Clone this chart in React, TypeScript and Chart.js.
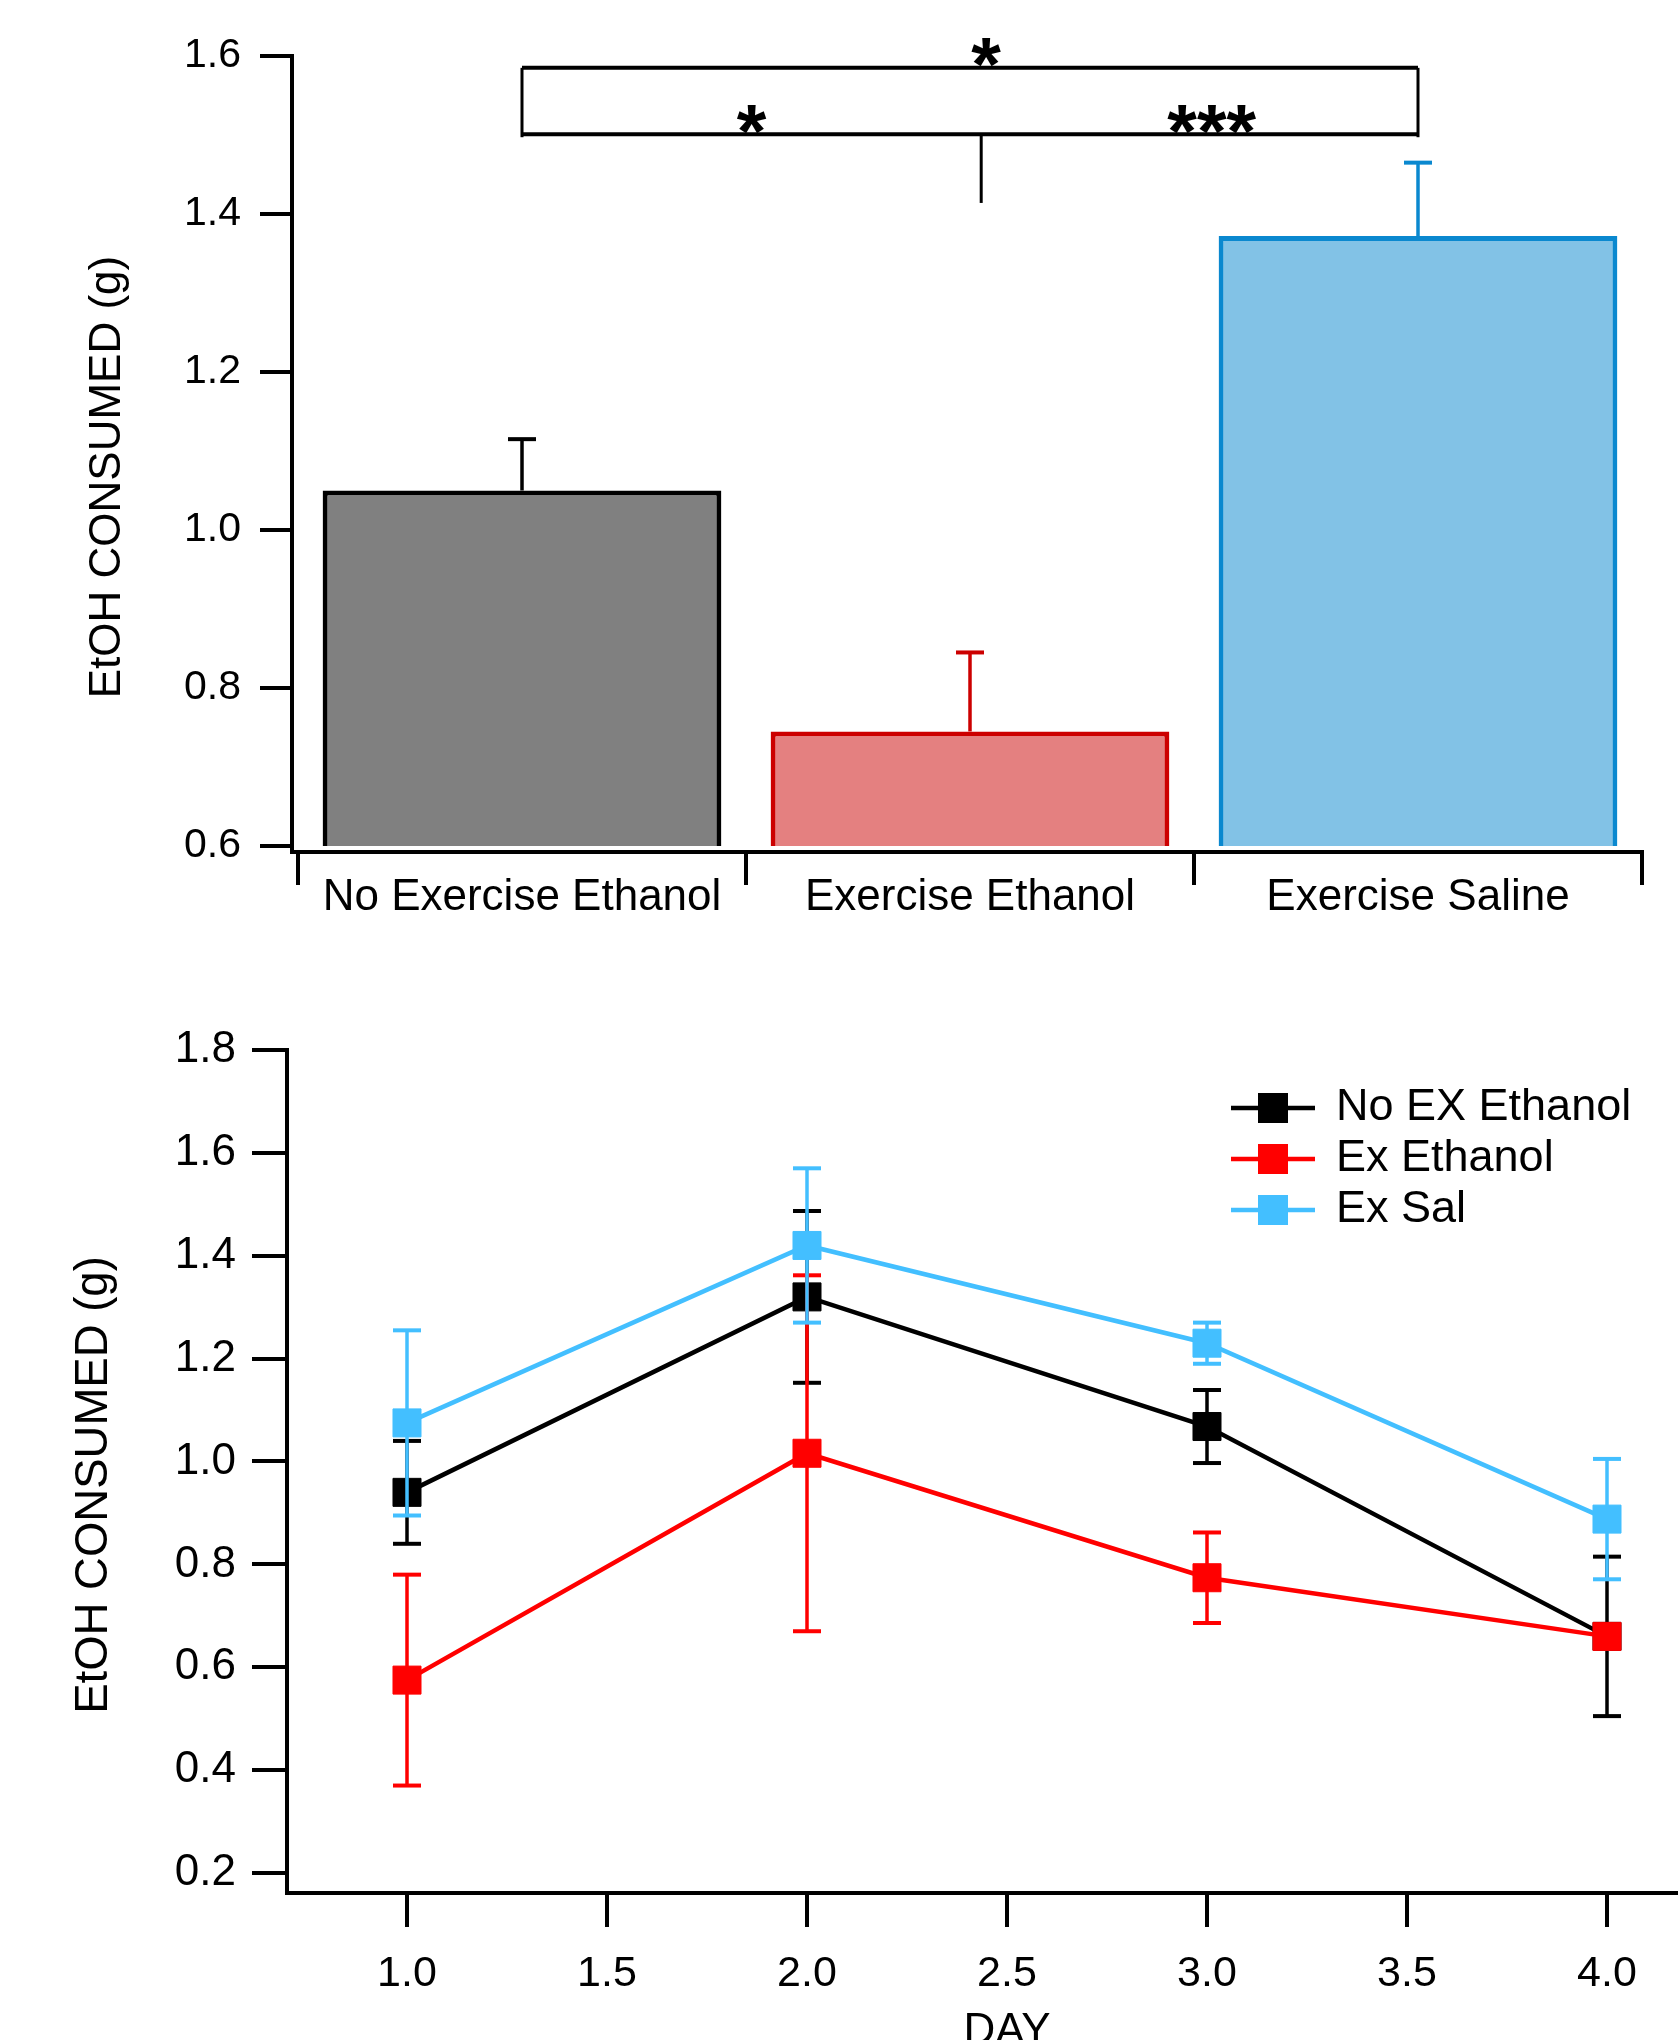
import React, { useEffect, useRef } from 'react';
import { Chart, registerables } from 'chart.js';

Chart.register(...registerables);

const FONT = '"Liberation Sans", Arial, Helvetica, sans-serif';

// ---------- Top panel: bar chart ----------
const barCategories = ['No Exercise Ethanol', 'Exercise Ethanol', 'Exercise Saline'];
const barMeans = [1.05, 0.745, 1.372];
const barErrors = [0.065, 0.1, 0.093];
const barYTicks = [0.6, 0.8, 1.0, 1.2, 1.4, 1.6];
const barFill = ['#808080', '#E48080', '#82C2E6'];
const barEdge = ['#000000', '#CC0000', '#0A88CF'];

// significance bracket (value-axis levels, category-index positions)
const bracketFrom = 0;
const bracketTo = 2;
const bracketUpperLevel = 1.585;
const bracketLowerLevel = 1.501;
const bracketStemAt = 1.025;
const bracketStemEnd = 1.414;
const sigMarks = ['*', '*', '***'];
const sigMarkAt = [1.036, 0.513, 1.54];
const sigMarkLevel = [1.6044, 1.519, 1.519];

// ---------- Bottom panel: line chart ----------
const days = [1, 2, 3, 4];
const dayTicks = [1.0, 1.5, 2.0, 2.5, 3.0, 3.5, 4.0];
const lineYTicks = [0.2, 0.4, 0.6, 0.8, 1.0, 1.2, 1.4, 1.6, 1.8];
const seriesNames = ['No EX Ethanol', 'Ex Ethanol', 'Ex Sal'];
const seriesColors = ['#000000', '#FF0000', '#43BFFF'];
const noExEthanol = [0.94, 1.32, 1.068, 0.66];
const noExEthanolErr = [0.1, 0.167, 0.071, 0.155];
const exEthanol = [0.575, 1.016, 0.774, 0.66];
const exEthanolErr = [0.205, 0.346, 0.088, 0.01];
const exSal = [1.075, 1.42, 1.23, 0.888];
const exSalErr = [0.18, 0.15, 0.04, 0.117];

const seriesValues = [noExEthanol, exEthanol, exSal];
const seriesErrors = [noExEthanolErr, exEthanolErr, exSalErr];

const Y_TITLE = 'EtOH CONSUMED (g)';

function strokeLine(ctx: CanvasRenderingContext2D, x1: number, y1: number, x2: number, y2: number) {
  ctx.beginPath();
  ctx.moveTo(x1, y1);
  ctx.lineTo(x2, y2);
  ctx.stroke();
}

function drawCenteredGlyphs(ctx: CanvasRenderingContext2D, text: string, cx: number, cy: number) {
  ctx.textAlign = 'left';
  ctx.textBaseline = 'alphabetic';
  const m = ctx.measureText(text);
  const A = m.actualBoundingBoxAscent;
  const D = m.actualBoundingBoxDescent;
  const L = m.actualBoundingBoxLeft;
  const R = m.actualBoundingBoxRight;
  ctx.fillText(text, cx - (R - L) / 2, cy + (A - D) / 2);
}

function drawVerticalTitle(ctx: CanvasRenderingContext2D, text: string, baselineX: number, centerY: number, size: number) {
  ctx.save();
  ctx.translate(baselineX, centerY);
  ctx.rotate(-Math.PI / 2);
  ctx.font = `${size}px ${FONT}`;
  ctx.fillStyle = '#000';
  ctx.textAlign = 'center';
  ctx.textBaseline = 'alphabetic';
  ctx.fillText(text, 0, 0);
  ctx.restore();
}

const topDecor = {
  id: 'topDecor',
  afterDatasetsDraw(chart: any) {
    const ctx: CanvasRenderingContext2D = chart.ctx;
    const xs = chart.scales.x;
    const ys = chart.scales.y;
    const area = chart.chartArea;
    const meta = chart.getDatasetMeta(0);
    ctx.save();
    ctx.lineCap = 'butt';

    // error bars (upper only)
    barMeans.forEach((m, i) => {
      const cx = meta.data[i].x;
      const y0 = ys.getPixelForValue(m);
      const y1 = ys.getPixelForValue(m + barErrors[i]);
      ctx.strokeStyle = barEdge[i];
      ctx.lineWidth = 3.5;
      strokeLine(ctx, cx, y0, cx, y1);
      ctx.lineWidth = 4;
      strokeLine(ctx, cx - 14, y1, cx + 14, y1);
    });

    // axes (offset from the plot area)
    const axX = area.left - 6;
    const axY = area.bottom + 6;
    const topPx = ys.getPixelForValue(barYTicks[barYTicks.length - 1]);
    ctx.strokeStyle = '#000';
    ctx.lineWidth = 4;
    strokeLine(ctx, axX, topPx - 2, axX, axY + 2);
    strokeLine(ctx, axX - 2, axY, area.right + 2, axY);
    barYTicks.forEach((v) => {
      const py = ys.getPixelForValue(v);
      strokeLine(ctx, axX - 32, py, axX, py);
    });
    for (let i = 0; i <= barCategories.length; i++) {
      const bx = xs.getPixelForValue(i - 0.5);
      strokeLine(ctx, bx, axY, bx, axY + 33);
    }

    // significance bracket
    const xL = xs.getPixelForValue(bracketFrom);
    const xR = xs.getPixelForValue(bracketTo);
    const yU = ys.getPixelForValue(bracketUpperLevel);
    const yLo = ys.getPixelForValue(bracketLowerLevel);
    ctx.lineWidth = 4;
    strokeLine(ctx, xL, yU, xR, yU);
    strokeLine(ctx, xL, yLo, xR, yLo);
    ctx.lineWidth = 3;
    strokeLine(ctx, xL, yU, xL, yLo + 3);
    strokeLine(ctx, xR, yU, xR, yLo + 3);
    const xs2 = xs.getPixelForValue(bracketStemAt);
    strokeLine(ctx, xs2, yLo, xs2, ys.getPixelForValue(bracketStemEnd));

    ctx.fillStyle = '#000';
    ctx.font = `bold 76px ${FONT}`;
    sigMarks.forEach((s, i) => {
      drawCenteredGlyphs(ctx, s, xs.getPixelForValue(sigMarkAt[i]), ys.getPixelForValue(sigMarkLevel[i]));
    });

    ctx.restore();
    drawVerticalTitle(ctx, Y_TITLE, 120, 477, 44);
  },
};

const bottomDecor = {
  id: 'bottomDecor',
  afterDatasetDraw(chart: any, args: any) {
    const ctx: CanvasRenderingContext2D = chart.ctx;
    const ys = chart.scales.y;
    const i = args.index;
    const vals = seriesValues[i];
    const errs = seriesErrors[i];
    ctx.save();
    ctx.strokeStyle = seriesColors[i];
    ctx.lineCap = 'butt';
    args.meta.data.forEach((pt: any, k: number) => {
      const cx = pt.x;
      const yT = ys.getPixelForValue(vals[k] + errs[k]);
      const yB = ys.getPixelForValue(vals[k] - errs[k]);
      ctx.lineWidth = 3.5;
      strokeLine(ctx, cx, yT, cx, yB);
      ctx.lineWidth = 4;
      strokeLine(ctx, cx - 14, yT, cx + 14, yT);
      strokeLine(ctx, cx - 14, yB, cx + 14, yB);
    });
    ctx.restore();
  },
  afterDraw(chart: any) {
    const ctx: CanvasRenderingContext2D = chart.ctx;
    ctx.save();
    const rowTop = 148;
    const rowGap = 51;
    seriesNames.forEach((name, i) => {
      const y = rowTop + i * rowGap;
      ctx.strokeStyle = seriesColors[i];
      ctx.fillStyle = seriesColors[i];
      ctx.lineWidth = 4.5;
      strokeLine(ctx, 1231, y, 1315, y);
      ctx.fillRect(1258, y - 15, 30, 30);
      ctx.fillStyle = '#000';
      ctx.font = `45px ${FONT}`;
      ctx.textAlign = 'left';
      ctx.textBaseline = 'middle';
      ctx.fillText(name, 1336, y);
    });
    ctx.restore();
    drawVerticalTitle(ctx, Y_TITLE, 107, 525, 45.5);
  },
};

export default function App() {
  const topRef = useRef<HTMLCanvasElement | null>(null);
  const botRef = useRef<HTMLCanvasElement | null>(null);

  useEffect(() => {
    document.documentElement.style.overflow = 'hidden';
    document.body.style.overflow = 'hidden';
    if (!topRef.current || !botRef.current) return;

    const fmt = (v: any) => Number(v).toFixed(1);

    const topChart = new Chart(topRef.current, {
      type: 'bar',
      data: {
        labels: barCategories,
        datasets: [
          {
            data: barMeans,
            backgroundColor: barFill,
            borderColor: barEdge,
            borderWidth: 5,
            borderSkipped: 'bottom',
            barPercentage: 0.89,
            categoryPercentage: 1.0,
          } as any,
        ],
      },
      options: {
        responsive: false,
        animation: false,
        devicePixelRatio: 1,
        layout: { padding: { left: 0, top: 56, right: 36, bottom: 0 } },
        plugins: { legend: { display: false }, tooltip: { enabled: false }, title: { display: false } },
        scales: {
          x: {
            type: 'category',
            offset: true,
            grid: { display: false, drawTicks: false, drawOnChartArea: false },
            border: { display: false },
            ticks: { color: '#000', font: { family: FONT, size: 44 }, padding: 25, maxRotation: 0, autoSkip: false },
            afterFit: (s: any) => { s.height = 114; },
          },
          y: {
            type: 'linear',
            min: barYTicks[0],
            max: barYTicks[barYTicks.length - 1],
            grid: {
              display: true,
              drawOnChartArea: false,
              drawTicks: true,
              tickLength: 37,
              color: 'rgba(0,0,0,0)',
            },
            border: { display: false },
            ticks: { color: '#000', font: { family: FONT, size: 41 }, padding: 20, callback: fmt },
            afterBuildTicks: (s: any) => { s.ticks = barYTicks.map((v) => ({ value: v })); },
            afterFit: (s: any) => { s.width = 298; },
          },
        },
      } as any,
      plugins: [topDecor],
    });

    const botChart = new Chart(botRef.current, {
      type: 'line',
      data: {
        datasets: seriesNames.map((name, i) => ({
          label: name,
          data: days.map((d, k) => ({ x: d, y: seriesValues[i][k] })),
          borderColor: seriesColors[i],
          backgroundColor: seriesColors[i],
          borderWidth: 4.5,
          pointStyle: 'rect',
          pointRadius: 19.8,
          pointBorderWidth: 1,
          pointBackgroundColor: seriesColors[i],
          pointBorderColor: seriesColors[i],
          tension: 0,
          fill: false,
          order: seriesNames.length - i,
        })) as any,
      },
      options: {
        responsive: false,
        animation: false,
        devicePixelRatio: 1,
        layout: { padding: { left: 0, top: 90, right: 33, bottom: 0 } },
        plugins: { legend: { display: false }, tooltip: { enabled: false }, title: { display: false } },
        scales: {
          x: {
            type: 'linear',
            min: 0.7,
            max: 4.3,
            grid: { drawOnChartArea: false, drawTicks: true, tickLength: 34, color: '#000', lineWidth: 4 },
            border: { display: true, color: '#000', width: 4 },
            ticks: { color: '#000', font: { family: FONT, size: 43 }, padding: 21, callback: fmt, maxRotation: 0, autoSkip: false },
            afterBuildTicks: (s: any) => { s.ticks = dayTicks.map((v) => ({ value: v })); },
            title: { display: true, text: 'DAY', color: '#000', font: { family: FONT, size: 44 }, padding: { top: 0, bottom: 42 } },
            afterFit: (s: any) => { s.height = 207; },
          },
          y: {
            type: 'linear',
            min: 0.1611,
            max: 1.8,
            grid: { drawOnChartArea: false, drawTicks: true, tickLength: 35, color: '#000', lineWidth: 4 },
            border: { display: true, color: '#000', width: 4 },
            ticks: { color: '#000', font: { family: FONT, size: 44 }, padding: 16, callback: fmt },
            afterBuildTicks: (s: any) => { s.ticks = lineYTicks.map((v) => ({ value: v })); },
            afterFit: (s: any) => { s.width = 287; },
          },
        },
      } as any,
      plugins: [bottomDecor],
    });

    return () => {
      topChart.destroy();
      botChart.destroy();
    };
  }, []);

  return (
    <div
      style={{
        position: 'absolute',
        left: 0,
        top: 0,
        width: 1678,
        height: 2040,
        overflow: 'hidden',
        background: '#fff',
      }}
    >
      <canvas ref={topRef} width={1678} height={960} style={{ position: 'absolute', left: 0, top: 0, width: 1678, height: 960 }} />
      <canvas ref={botRef} width={1760} height={1140} style={{ position: 'absolute', left: 0, top: 960, width: 1760, height: 1140 }} />
    </div>
  );
}
